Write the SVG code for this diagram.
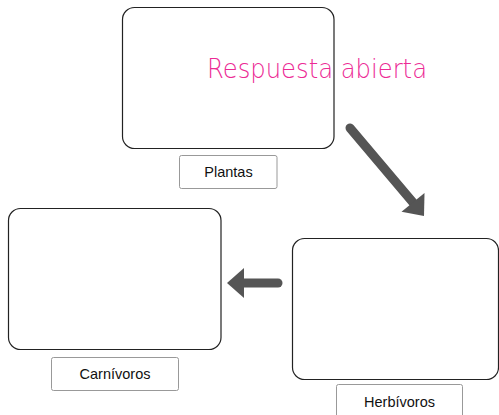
<svg xmlns="http://www.w3.org/2000/svg" width="499" height="415" viewBox="0 0 499 415">
<style>
.box{fill:#fff;stroke:#222;stroke-width:1.2}
.lbl{fill:#fff;stroke:#999;stroke-width:1}
.t{font-family:"Liberation Sans",Arial,sans-serif;font-size:14.5px;fill:#111;text-anchor:middle}
.arr{stroke:#555;stroke-width:9;stroke-linecap:round;fill:none}
.head{fill:#555}
</style>
<g id="plantas">
<rect class="box" x="122.5" y="7.5" width="211.5" height="141" rx="12"/>
<rect class="lbl" x="179.5" y="155.5" width="97.5" height="33" rx="2"/>
<text class="t" x="228.5" y="177">Plantas</text>
</g>
<g id="herbivoros">
<rect class="box" x="292.5" y="238.5" width="206" height="141" rx="12"/>
<rect class="lbl" x="336.5" y="384.5" width="126" height="33" rx="2"/>
<text class="t" x="399.5" y="407">Herbívoros</text>
</g>
<g id="carnivoros">
<rect class="box" x="8.5" y="208.5" width="212.5" height="141" rx="12"/>
<rect class="lbl" x="51.5" y="357.5" width="127" height="33" rx="2"/>
<text class="t" x="115" y="379">Carnívoros</text>
</g>
<g id="connectors">
<line class="arr" x1="350" y1="128" x2="413" y2="202.5"/>
<polygon class="head" points="401.5,211.8 424,216 424.5,193"/>
<line class="arr" x1="278" y1="283" x2="243" y2="283"/>
<polygon class="head" points="227,283 244,268 244,298"/>
</g>
<text x="207" y="78" font-family="'DejaVu Sans',sans-serif" font-weight="200" font-size="27" fill="#ec2a95" textLength="220" lengthAdjust="spacingAndGlyphs">Respuesta abierta</text>
</svg>
